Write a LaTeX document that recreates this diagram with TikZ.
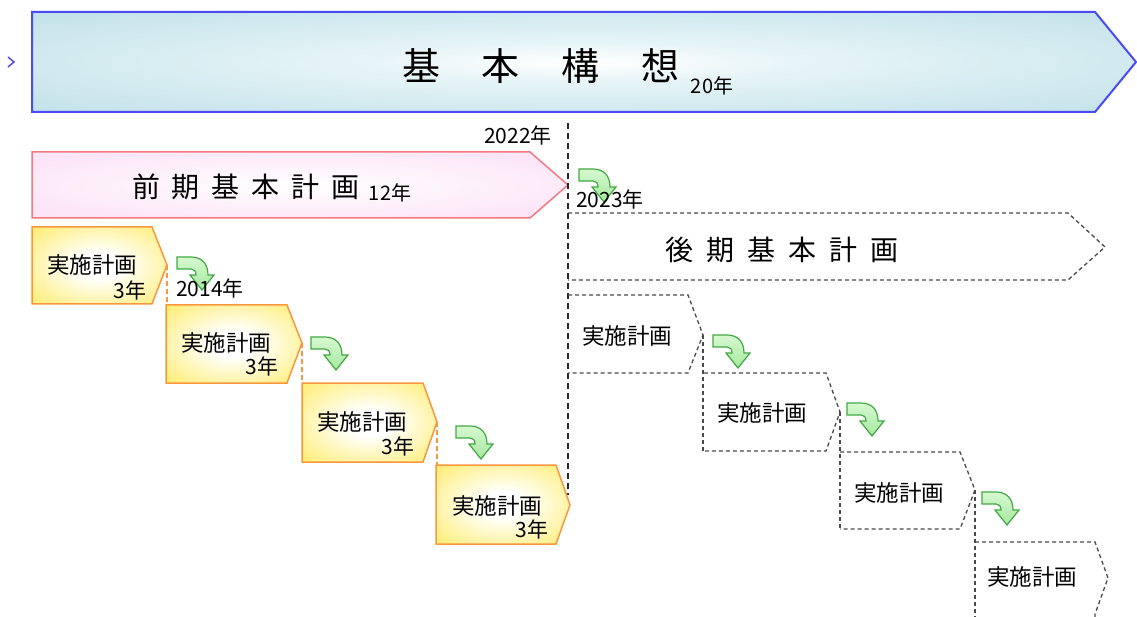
\documentclass[tikz,border=0pt]{standalone}
\usepackage{fontspec}
\setmainfont{Noto Sans CJK JP}
\definecolor{bcyan}{HTML}{C0E1E8}
\definecolor{bcyanl}{HTML}{E6F4F7}
\definecolor{bblue}{HTML}{4B4BF2}
\definecolor{pinkfill}{HTML}{FCE5F7}
\definecolor{pinkline}{HTML}{F27A80}
\definecolor{yfill}{HTML}{FFEE78}
\definecolor{oline}{HTML}{F9963E}
\definecolor{gline}{HTML}{4A4A4A}
\definecolor{grfill}{HTML}{A6E8A0}
\definecolor{grlight}{HTML}{D6F8D0}
\definecolor{grline}{HTML}{44A844}
\pgfdeclareradialshading{bannershade}{\pgfpoint{0bp}{0bp}}{color(0bp)=(white); color(10bp)=(bcyanl); color(36bp)=(bcyan); color(50bp)=(bcyan)}
\pgfdeclareradialshading{pinkshade}{\pgfpoint{0bp}{0bp}}{color(0bp)=(white); color(30bp)=(pinkfill); color(50bp)=(pinkfill)}
\pgfdeclareradialshading{yshade}{\pgfpoint{0bp}{0bp}}{color(0bp)=(white); color(8bp)=(white); color(34bp)=(yfill); color(50bp)=(yfill)}
\tikzset{
  banner/.style={draw=bblue, line width=2pt, shading=bannershade},
  pinkbox/.style={draw=pinkline, line width=1.5pt, shading=pinkshade},
  ybox/.style={draw=oline, line width=1.5pt, shading=yshade, line join=miter},
  dbox/.style={draw=gline, line width=1.3pt, dash pattern=on 4pt off 3pt},
  vline/.style={draw=black!85, line width=1.2pt, dash pattern=on 6pt off 4pt},
  oconn/.style={draw=oline, line width=1.3pt, dash pattern=on 5pt off 3pt},
  txt/.style={inner sep=0pt, outer sep=0pt, text=black},
  plan/.style={txt, font=\fontsize{22.5}{22.5}\selectfont},
  small/.style={txt, font=\fontsize{21}{21}\selectfont},
  yr/.style={txt, font=\fontsize{20}{20}\selectfont},
  garrowstyle/.style={draw=grline, line width=1.2pt, top color=grlight, bottom color=grfill},
  garrow/.pic={
    \path[garrowstyle] (0,0) -- (14,0) .. controls (25,0) and (31,7) .. (31,18)
      -- (37,18) -- (25,33) -- (13,18) -- (19,18)
      .. controls (19,14) and (17,12) .. (14,12) -- (0,12) -- cycle;
  }
}
\begin{document}
\begin{tikzpicture}[x=1pt, y=-1pt]
\path[use as bounding box] (0,0) rectangle (1137,617);
\clip (0,0) rectangle (1137,617);
% small chevron on the left
\draw[bblue, line width=1.5pt] (8,57) -- (14,62) -- (8,67);
% top banner
\path[banner] (32,12) -- (1095,12) -- (1136,62) -- (1095,112) -- (32,112) -- cycle;
% front plan banner
\path[pinkbox] (32,152) -- (530,152) -- (568,185) -- (530,218) -- (32,218) -- cycle;
% latter plan banner
\path[dbox] (568,213) -- (1068,213) -- (1105,247) -- (1068,280) -- (568,280);
% vertical divider
\coordinate (vtop) at (568,123);
\coordinate (vbot) at (568,495);
\path[vline] (vtop) -- (vbot);
% dashed implementation boxes
\path[dbox] (568,295) -- (688,295) -- (703,335) -- (688,373) -- (568,373);
\coordinate (d1tip) at (703,335);
\path[dbox] (704,373) -- (826,373) -- (840,412) -- (826,451) -- (704,451);
\coordinate (d2bl) at (703,451);
\coordinate (d2tip) at (840,412);
\path[dbox] (840,452) -- (960,452) -- (975,490) -- (960,529) -- (840,529);
\coordinate (d3bl) at (840,529);
\coordinate (d3tip) at (975,490);
\path[dbox] (975,542) -- (1095,542) -- (1108,578) -- (1095,614) -- (1094,640);
\coordinate (d4bl) at (975,640);
\path[dbox] (d1tip) -- (d2bl);
\path[dbox] (d2tip) -- (d3bl);
\path[dbox] (d3tip) -- (d4bl);
% yellow boxes
\path[ybox] (32,227) -- (152,227) -- (167,265) -- (152,304) -- (32,304) -- cycle;
\coordinate (y1tip) at (167,265);
\coordinate (y2tl) at (167,305);
\path[ybox] (166,305) -- (287,305) -- (302,343) -- (287,383) -- (166,383) -- cycle;
\coordinate (y2tip) at (302,343);
\coordinate (y3tl) at (302,383);
\path[ybox] (302,383) -- (423,383) -- (437,422) -- (423,462) -- (302,462) -- cycle;
\coordinate (y3tip) at (437,422);
\coordinate (y4tl) at (437,465);
\path[ybox] (436,465) -- (556,465) -- (570,505) -- (556,544) -- (436,544) -- cycle;
\path[oconn] (y1tip) -- (y2tl);
\path[oconn] (y2tip) -- (y3tl);
\path[oconn] (y3tip) -- (y4tl);
% green arrows
\pic at (177,257) {garrow};
\pic at (311,337) {garrow};
\pic at (456,426) {garrow};
\pic at (579,169) {garrow};
\pic at (713,335) {garrow};
\pic at (847,403) {garrow};
\pic at (982,492) {garrow};
% texts
\node[txt, font=\fontsize{38}{38}\selectfont] (title) at (541,66) {基\hspace{42pt}本\hspace{42pt}構\hspace{42pt}想};
\node[yr] (t20) at (712,86) {20年};
\node[txt, font=\fontsize{28}{28}\selectfont] (zenki) at (246,187) {前\hspace{12pt}期\hspace{12pt}基\hspace{12pt}本\hspace{12pt}計\hspace{12pt}画};
\node[yr] (t12) at (390,193) {12年};
\node[txt, font=\fontsize{28}{28}\selectfont] (kouki) at (782,250) {後\hspace{13pt}期\hspace{13pt}基\hspace{13pt}本\hspace{13pt}計\hspace{13pt}画};
\node[small] (y2022) at (518,135) {2022年};
\node[small] (y2023) at (610,199) {2023年};
\node[small] (y2014) at (210,288) {2014年};
\node[plan] (p1) at (92,265) {実施計画};
\node[small] (n1) at (130,290) {3年};
\node[plan] (p2) at (226,343) {実施計画};
\node[small] (n2) at (262,366) {3年};
\node[plan] (p3) at (362,422) {実施計画};
\node[small] (n3) at (398,446) {3年};
\node[plan] (p4) at (497,506) {実施計画};
\node[small] (n4) at (532,529) {3年};
\node[plan] (q1) at (627,336) {実施計画};
\node[plan] (q2) at (762,413) {実施計画};
\node[plan] (q3) at (899,493) {実施計画};
\node[plan] (q4) at (1032,577) {実施計画};
\end{tikzpicture}
\end{document}
